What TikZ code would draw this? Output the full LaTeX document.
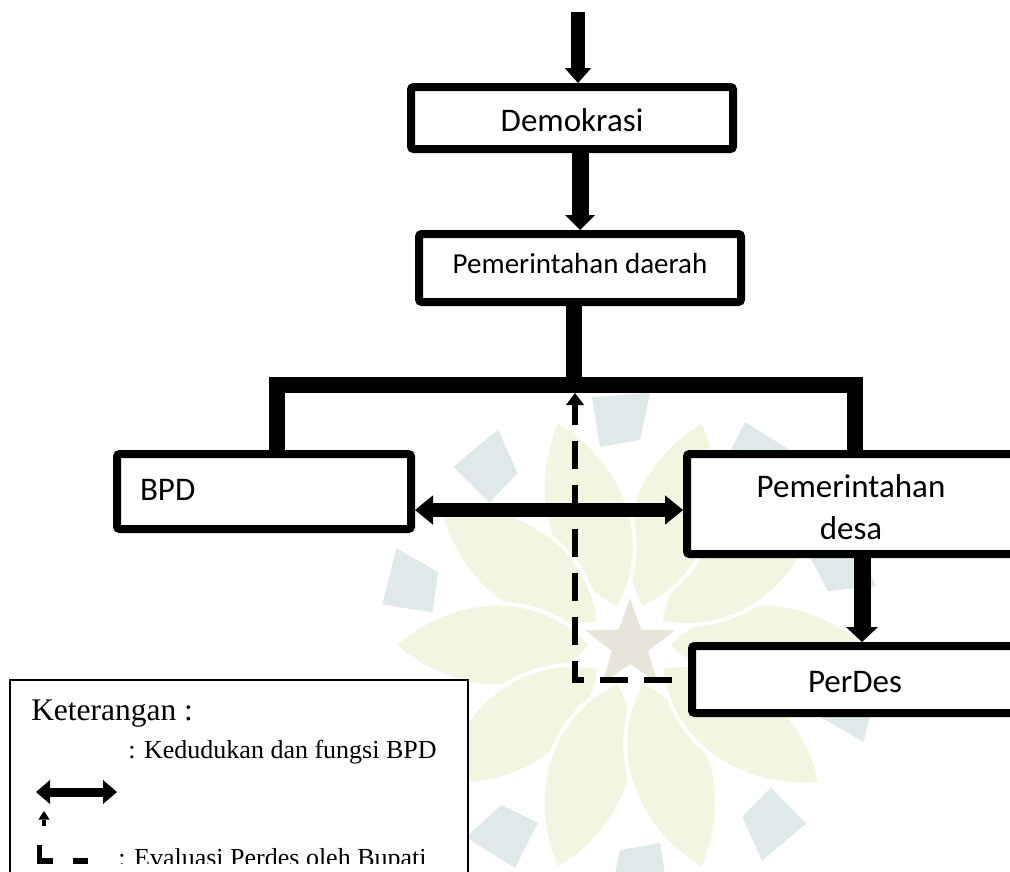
\documentclass[tikz,border=0pt]{standalone}
\usepackage{fontspec}
\setmainfont{Liberation Serif}
\newfontfamily\calibri{Carlito}
\usetikzlibrary{arrows.meta}
\definecolor{petal}{RGB}{242,245,224}
\definecolor{ringc}{RGB}{224,233,234}
\definecolor{starc}{RGB}{231,228,217}
\begin{document}
\begin{tikzpicture}[x=0.75pt,y=-0.75pt,
  box/.style={draw, line width=6pt, fill=white, rounded corners=2pt, inner sep=0pt,
    outer sep=3pt, text depth=0pt, font=\calibri\fontsize{24.75pt}{31.5pt}\selectfont},
  arrA/.style={line width=10.5pt, -{Triangle[length=11.25pt,width=20pt,line width=0pt]}},
  arrB/.style={line width=12.75pt, -{Triangle[length=11.25pt,width=22.5pt,line width=0pt]}},
  arrE/.style={line width=12.75pt, -{Triangle[length=11.25pt,width=24pt,line width=0pt]}},
  arrD/.style={line width=10.5pt, {Triangle[length=13.5pt,width=22pt,line width=0pt]}-{Triangle[length=13.5pt,width=22pt,line width=0pt]}},
  tree/.style={line width=12pt, line join=miter},
  dasharr/.style={line width=4.5pt, line join=miter, dash pattern=on 21pt off 12pt, dash phase=21pt,
    -{Triangle[length=9pt,width=13.5pt,line width=0pt]}},
  legtext/.style={anchor=base west, inner sep=0pt, font=\fontsize{19.5pt}{23pt}\selectfont},
  petalshape/.style={fill=petal, draw=white, line width=3pt},
]
\useasboundingbox (0,0) rectangle (1010,871);
\clip (0,0) rectangle (1010,871);
\fill[white] (0,0) rectangle (1010,871);

% watermark
\begin{scope}[shift={(630,645)}]
  \foreach \a in {18,54,...,342}{
    \fill[ringc, rotate=\a] (198,-30) -- (248,-38) -- (252,20) -- (205,10) -- cycle;
  }
  \foreach \a in {0,36,...,324}{
    \path[petalshape, rotate=\a] (38,0) .. controls (95,60) and (180,50) .. (236,0)
      .. controls (180,-50) and (95,-60) .. (38,0) -- cycle;
  }
  \fill[starc] (270:47) -- (306:19) -- (342:47) -- (18:19) -- (54:47) -- (90:19)
    -- (126:47) -- (162:19) -- (198:47) -- (234:19) -- cycle;
\end{scope}

% legend box
\draw[line width=1.1pt, fill=white] (10,680) rectangle (468,900);
\node[legtext, font=\fontsize{23.6pt}{28pt}\selectfont] (ket) at (31,720) {Keterangan :};
\node[legtext] (ked) at (128,758) {: Kedudukan dan fungsi BPD};
\draw[line width=6.75pt, {Triangle[length=10.5pt,width=18pt,line width=0pt]}-{Triangle[length=10.5pt,width=18pt,line width=0pt]}] (36,792) -- (117,792);
\draw[line width=3pt, -{Triangle[length=6.5pt,width=8.5pt,line width=0pt]}] (44,826) -- (44,811);
\begin{scope}
  \clip (0,0) rectangle (1010,863.5);
  \draw[line width=4pt, line join=miter] (39.5,845) -- (39.5,861) -- (53,861);
  \draw[line width=4pt] (73,861) -- (88,861);
  \node[legtext] (eva) at (118,866) {: Evaluasi Perdes oleh Bupati};
\end{scope}

% boxes
\node[box, minimum width=241.5pt, minimum height=46.5pt, text height=19.5pt] (demo) at (572,118) {Demokrasi};
\node[box, minimum width=241.5pt, minimum height=51pt, text height=7.5pt,
  font=\calibri\fontsize{21.75pt}{26pt}\selectfont] (pemda) at (580,268) {Pemerintahan daerah};
\node[box, minimum width=220.5pt, minimum height=56.25pt, text height=12.75pt,
  inner xsep=17.25pt, text width=186pt, align=left] (bpd) at (264,491.5) {BPD};
\node[box, minimum width=246pt, minimum height=75pt, align=center, text depth=] (pdesa) at (851,504)
  {\rule{0pt}{22.5pt}Pemerintahan\\desa};
\node[box, minimum width=244.5pt, minimum height=50.25pt, text height=18.75pt] (perdes) at (855,679.5) {PerDes};

% connectors
\coordinate (src) at (578,12);
\draw[arrA] (src) -- (src |- demo.north);
\draw[arrB] (pemda.north |- demo.south) -- (pemda.north);
\coordinate (stem) at (574,385);
\coordinate (jl) at (277,385);
\coordinate (jr) at (855,385);
\draw[tree] (stem |- pemda.south) -- (stem);
\draw[tree] (jl |- bpd.north) -- (jl) -- (jr) -- (jr |- pdesa.north);
\coordinate (dy) at (0,510);
\draw[arrD] (bpd.east |- dy) -- (pdesa.west |- dy);
\coordinate (ax) at (862,0);
\draw[arrE] (ax |- pdesa.south) -- (ax |- perdes.north);
\coordinate (dcorner) at (575,680);
\coordinate (dtip) at (575,393);
\draw[dasharr] (perdes.west |- dcorner) -- (dcorner) -- (dtip);
\end{tikzpicture}
\end{document}
